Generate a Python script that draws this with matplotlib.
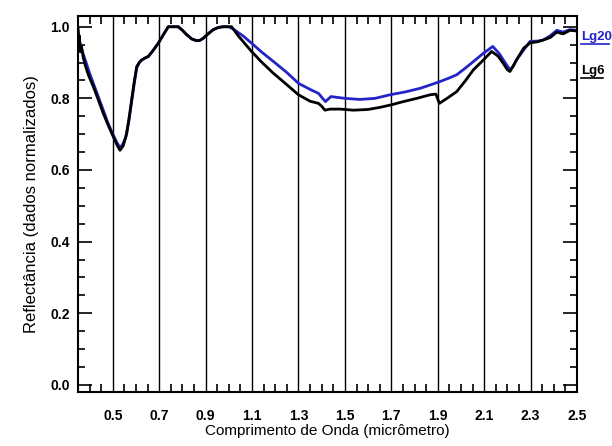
import matplotlib
matplotlib.use("Agg")
import matplotlib.pyplot as plt
from matplotlib.lines import Line2D
from matplotlib.ticker import MultipleLocator, FixedLocator

# wavelength (micrometre) and normalised reflectance
wl_lg6 = [0.350, 0.353, 0.356, 0.360, 0.365, 0.372, 0.380, 0.395, 0.416, 0.438,
          0.459, 0.480, 0.502, 0.518, 0.531, 0.545, 0.560, 0.570, 0.581, 0.592,
          0.603, 0.614, 0.624, 0.640, 0.653, 0.675, 0.696, 0.718, 0.739, 0.760,
          0.782, 0.800, 0.818, 0.840, 0.861, 0.875, 0.890, 0.910, 0.933, 0.955,
          0.976, 1.000, 1.012, 1.040, 1.070, 1.098, 1.140, 1.192, 1.250, 1.300,
          1.350, 1.386, 1.400, 1.414, 1.436, 1.480, 1.536, 1.600, 1.652, 1.700,
          1.752, 1.810, 1.867, 1.892, 1.907, 1.940, 1.982, 2.020, 2.054, 2.095,
          2.132, 2.160, 2.185, 2.200, 2.211, 2.225, 2.240, 2.270, 2.298, 2.330,
          2.355, 2.385, 2.413, 2.440, 2.470, 2.500]
r_lg6 = [0.995, 0.960, 0.975, 0.930, 0.945, 0.916, 0.895, 0.865, 0.833, 0.795,
         0.758, 0.725, 0.693, 0.670, 0.655, 0.668, 0.702, 0.745, 0.795, 0.845,
         0.889, 0.900, 0.907, 0.913, 0.917, 0.935, 0.954, 0.978, 1.000, 1.000,
         1.000, 0.990, 0.978, 0.966, 0.961, 0.962, 0.968, 0.980, 0.992, 0.998,
         1.000, 1.000, 1.000, 0.975, 0.952, 0.931, 0.902, 0.870, 0.838, 0.810,
         0.792, 0.786, 0.778, 0.767, 0.770, 0.770, 0.767, 0.769, 0.775, 0.782,
         0.791, 0.800, 0.810, 0.812, 0.786, 0.800, 0.819, 0.850, 0.880, 0.906,
         0.931, 0.918, 0.895, 0.880, 0.875, 0.890, 0.908, 0.940, 0.955, 0.958,
         0.963, 0.970, 0.985, 0.980, 0.990, 0.988]

wl_lg20 = [0.350, 0.355, 0.362, 0.372, 0.385, 0.400, 0.420, 0.440, 0.460, 0.480,
           0.500, 0.515, 0.528, 0.540, 0.555, 0.570, 0.581, 0.592, 0.603, 0.614,
           0.624, 0.640, 0.653, 0.675, 0.696, 0.718, 0.739, 0.760, 0.782, 0.800,
           0.818, 0.840, 0.861, 0.875, 0.890, 0.910, 0.933, 0.955, 0.976, 1.000,
           1.020, 1.060, 1.098, 1.140, 1.192, 1.250, 1.300, 1.350, 1.386, 1.416,
           1.440, 1.500, 1.565, 1.630, 1.694, 1.760, 1.824, 1.870, 1.910, 1.950,
           1.982, 2.020, 2.054, 2.095, 2.137, 2.165, 2.190, 2.211, 2.225, 2.240,
           2.270, 2.298, 2.330, 2.355, 2.385, 2.413, 2.440, 2.470, 2.500]
r_lg20 = [0.990, 0.965, 0.945, 0.925, 0.900, 0.870, 0.835, 0.800, 0.765, 0.730,
          0.700, 0.680, 0.665, 0.668, 0.690, 0.740, 0.790, 0.840, 0.885, 0.900,
          0.907, 0.913, 0.917, 0.935, 0.954, 0.978, 1.000, 1.000, 1.000, 0.990,
          0.978, 0.966, 0.961, 0.962, 0.968, 0.980, 0.992, 0.998, 1.000, 1.000,
          0.993, 0.975, 0.954, 0.930, 0.903, 0.872, 0.842, 0.825, 0.814, 0.791,
          0.805, 0.800, 0.797, 0.800, 0.810, 0.818, 0.828, 0.838, 0.847, 0.857,
          0.866, 0.885, 0.903, 0.925, 0.945, 0.925, 0.900, 0.880, 0.890, 0.908,
          0.935, 0.959, 0.960, 0.963, 0.975, 0.990, 0.985, 0.992, 0.990]

grid_x = [0.5, 0.7, 0.9, 1.1, 1.3, 1.5, 1.7, 1.9, 2.1, 2.3]
xtick_labels = ["0.5", "0.7", "0.9", "1.1", "1.3", "1.5", "1.7", "1.9", "2.1", "2.3", "2.5"]
ytick_vals = [0.0, 0.2, 0.4, 0.6, 0.8, 1.0]

BLUE = "#2424c8"
FAMILY = ["Liberation Sans Narrow", "Liberation Sans", "DejaVu Sans"]
tick_font = dict(family=FAMILY, weight="bold", size=10)
leg_font = dict(family=FAMILY, weight="bold", size=9.5)

fig = plt.figure(figsize=(6.12, 4.46), dpi=100)
ax = fig.add_axes([78 / 612, 1 - 392 / 446, 499 / 612, 376 / 446])

for gx in grid_x:
    ax.axvline(gx, color="black", linewidth=1.0, zorder=1)

ax.plot(wl_lg6, r_lg6, color="black", linewidth=2.0, zorder=3)
ax.plot(wl_lg20, r_lg20, color=BLUE, linewidth=2.0, zorder=2)

ax.set_xlim(0.35, 2.5)
ax.set_ylim(-0.02, 1.03)
ax.xaxis.set_major_locator(FixedLocator(grid_x + [2.5]))
ax.set_xticklabels(xtick_labels, **tick_font)
ax.xaxis.set_minor_locator(MultipleLocator(0.05))
ax.set_yticks(ytick_vals)
ax.set_yticklabels([f"{v:.1f}" for v in ytick_vals], **tick_font)
ax.yaxis.set_minor_locator(MultipleLocator(0.05))
ax.tick_params(which="both", direction="in", top=True, right=True, color="black")
ax.tick_params(axis="y", which="major", length=10, width=1.2, pad=6)
ax.tick_params(axis="y", which="minor", length=5, width=1.2)
ax.tick_params(axis="x", which="major", length=0, pad=12)
ax.tick_params(axis="x", which="minor", length=6, width=1.2)
for s in ax.spines.values():
    s.set_linewidth(1.5)

ax.set_xlabel("Comprimento de Onda (micrômetro)", labelpad=1, family=FAMILY, size=11)
ax.set_ylabel("Reflectância (dados normalizados)", labelpad=8, family=FAMILY, size=12)

# right-hand labels, underlined
fig.text(581 / 612, 1 - 37 / 446, "Lg20", color=BLUE, va="center", ha="left",
         **leg_font)
fig.add_artist(Line2D([581 / 612, 609 / 612], [1 - 43.5 / 446] * 2, color=BLUE,
                      linewidth=1.2, transform=fig.transFigure))
fig.text(581 / 612, 1 - 71 / 446, "Lg6", color="black", va="center", ha="left",
         **leg_font)
fig.add_artist(Line2D([581 / 612, 603 / 612], [1 - 78 / 446] * 2, color="black",
                      linewidth=1.2, transform=fig.transFigure))

fig.savefig("out.png", dpi=100)
